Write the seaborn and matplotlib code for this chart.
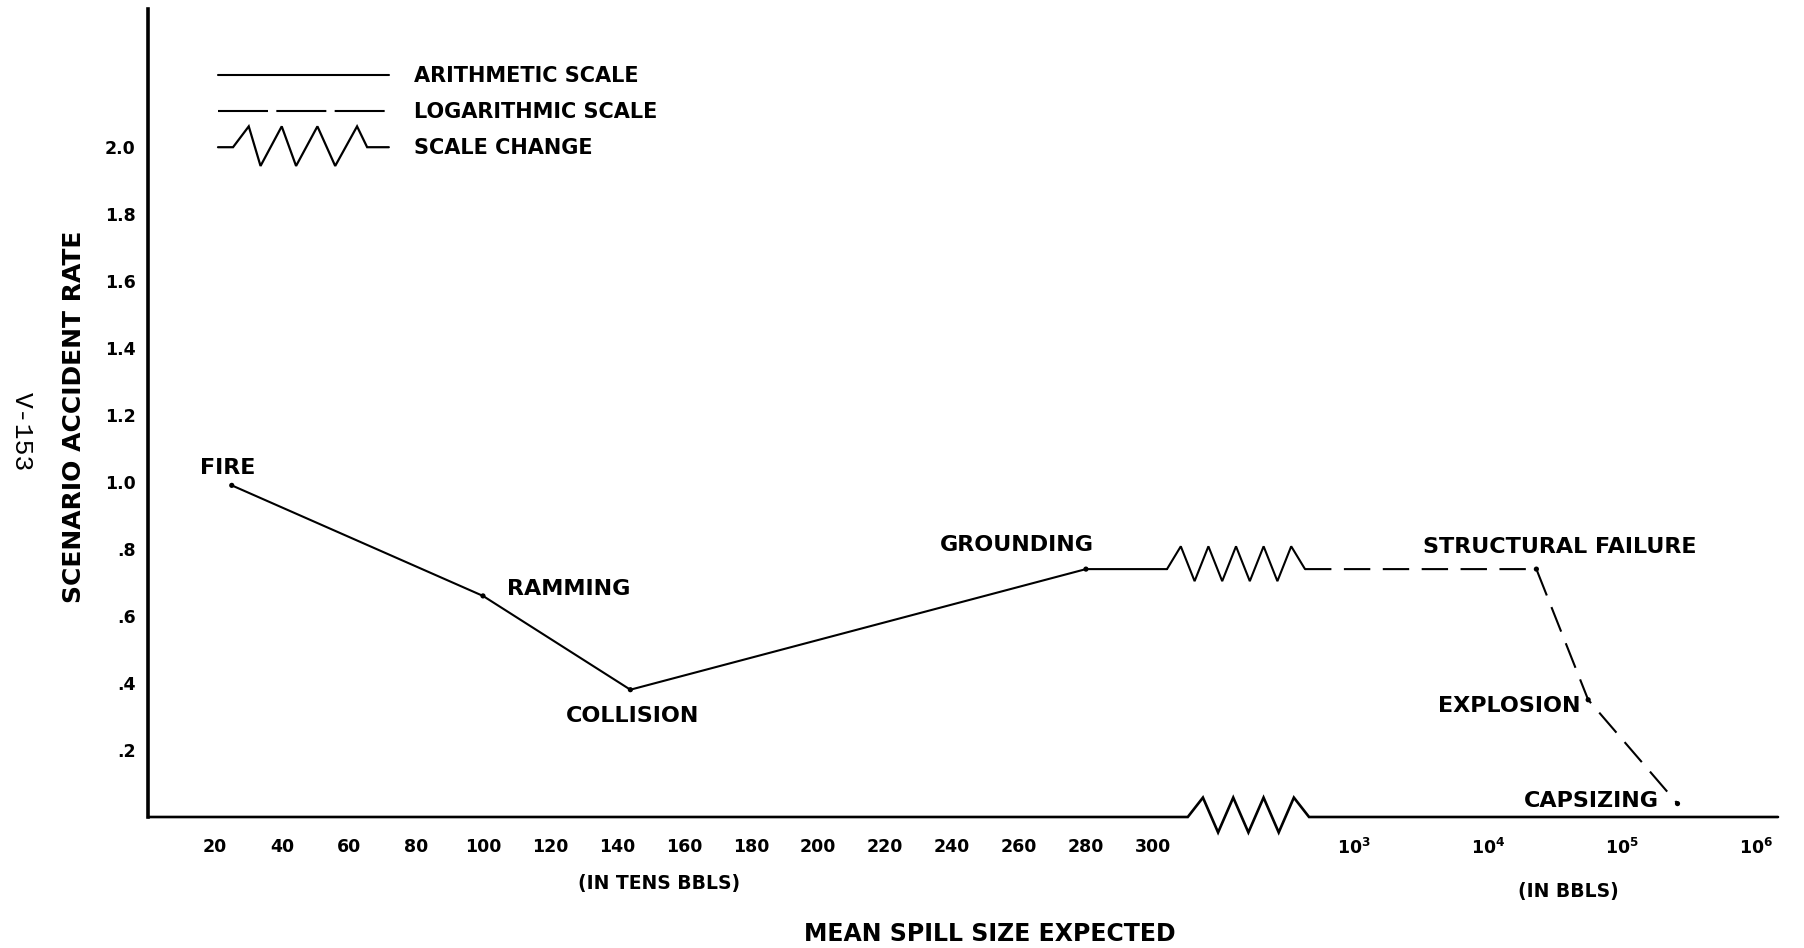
import numpy as np
import pandas as pd
import matplotlib
matplotlib.use("Agg")
import matplotlib.pyplot as plt
from matplotlib.lines import Line2D
from matplotlib.legend_handler import HandlerBase
import seaborn as sns

# ---- data -------------------------------------------------------------
scenarios = ["FIRE", "RAMMING", "COLLISION", "GROUNDING",
             "STRUCTURAL FAILURE", "EXPLOSION", "CAPSIZING"]
# first four in tens of barrels (arithmetic part), rest in barrels (log part)
spill = [25, 100, 144, 280, 2.3e4, 5.6e4, 2.6e5]
rate = [0.99, 0.66, 0.38, 0.74, 0.74, 0.35, 0.04]

arith_ticks = list(range(20, 301, 20))
log_ticks = [1e3, 1e4, 1e5, 1e6]
log_tick_labels = [r"$\mathbf{10^3}$", r"$\mathbf{10^4}$",
                   r"$\mathbf{10^5}$", r"$\mathbf{10^6}$"]
y_ticks = [0.2, 0.4, 0.6, 0.8, 1.0, 1.2, 1.4, 1.6, 1.8, 2.0]
y_tick_labels = [".2", ".4", ".6", ".8", "1.0", "1.2", "1.4", "1.6", "1.8", "2.0"]

# ---- hybrid axis: arithmetic 0..300, scale break, then log 10^3..10^6 ----
ARITH_END, LOG_START, BREAK_W, DECADE_W = 300.0, 1000.0, 60.0, 40.0
U_MAX = 486.6


def fwd(x):
    x = np.asarray(x, dtype=float)
    brk = ARITH_END + (x - ARITH_END) * BREAK_W / (LOG_START - ARITH_END)
    lg = ARITH_END + BREAK_W + DECADE_W * np.log10(np.maximum(x, 1e-9) / LOG_START)
    return np.where(x <= ARITH_END, x, np.where(x < LOG_START, brk, lg))


def inv(u):
    u = np.asarray(u, dtype=float)
    brk = ARITH_END + (u - ARITH_END) * (LOG_START - ARITH_END) / BREAK_W
    lg = LOG_START * 10 ** ((u - ARITH_END - BREAK_W) / DECADE_W)
    return np.where(u <= ARITH_END, u, np.where(u < ARITH_END + BREAK_W, brk, lg))


def zigzag(u0, u1, n_peaks, up, down):
    """Vertices of a scale-change zigzag between scale positions u0 and u1."""
    us = np.linspace(u0, u1, 2 * n_peaks + 1)
    ys = [0.0]
    for i in range(1, 2 * n_peaks):
        ys.append(up if i % 2 == 1 else -down)
    ys.append(0.0)
    return inv(us), np.array(ys)


sns.set_theme(style="white")
plt.rcParams["font.family"] = ["DejaVu Sans"]
plt.rcParams["font.weight"] = "bold"
plt.rcParams["lines.scale_dashes"] = False
for key in ("text.color", "axes.labelcolor", "xtick.color", "ytick.color"):
    plt.rcParams[key] = "black"

W, H = 1804, 948
fig = plt.figure(figsize=(W / 100, H / 100), dpi=100)
ax = fig.add_axes([148 / W, 1 - 817 / H, 1630 / W, 808 / H])
ax.set_xscale("function", functions=(fwd, inv))
ax.set_xlim(0, float(inv(U_MAX)))
ax.set_ylim(0, 2.412)

LW = 1.5
DASH = (0, (19, 9))

# solid arithmetic segment, running flat past 300 to the scale-change mark
zig_line = (304.2, 345.4)
arith = pd.DataFrame({"x": spill[:4] + [float(inv(zig_line[0]))],
                      "y": rate[:4] + [rate[3]]})
sns.lineplot(data=arith, x="x", y="y", ax=ax, color="black", lw=LW,
             sort=False, estimator=None)

# zigzag on the curve
zx, zy = zigzag(zig_line[0], zig_line[1], 5, 0.068, 0.036)
ax.plot(zx, rate[3] + zy, color="black", lw=LW, solid_joinstyle="miter")

# dashed logarithmic segment
logseg = pd.DataFrame({"x": [float(inv(zig_line[1]))] + spill[4:],
                       "y": [rate[4]] + rate[4:]})
sns.lineplot(data=logseg, x="x", y="y", ax=ax, color="black", lw=LW,
             sort=False, estimator=None, linestyle=DASH)

pts = pd.DataFrame({"x": spill, "y": rate})
sns.scatterplot(data=pts, x="x", y="y", ax=ax, color="black", s=14,
                edgecolor="none", zorder=5)

# x axis line with its own scale-change zigzag
zig_axis = (310.4, 346.6)
ax_zx, ax_zy = zigzag(zig_axis[0], zig_axis[1], 4, 0.058, 0.046)
axis_x = np.concatenate([[0.0], ax_zx, [float(inv(U_MAX))]])
axis_y = np.concatenate([[0.0], ax_zy, [0.0]])
ax.plot(axis_x, axis_y, color="black", lw=1.9, clip_on=False,
        solid_joinstyle="miter", zorder=6)

# spines / ticks
for s in ("top", "right", "bottom"):
    ax.spines[s].set_visible(False)
ax.spines["left"].set_color("black")
ax.spines["left"].set_linewidth(2.6)

ax.set_xticks(arith_ticks + log_ticks)
ax.set_xticklabels([str(t) for t in arith_ticks] + log_tick_labels)
ax.set_yticks(y_ticks)
ax.set_yticklabels(y_tick_labels)
ax.tick_params(axis="x", direction="out", length=6, width=1.5, color="black",
               pad=9, labelsize=12.5, labelcolor="black")
ax.tick_params(axis="y", direction="out", length=5, width=1.3, color="black",
               pad=4, labelsize=12.5, labelcolor="black")
for lab in ax.get_xticklabels() + ax.get_yticklabels():
    lab.set_fontweight("bold")
ax.set_xlabel("")
ax.set_ylabel("")

# point labels (offsets in pixels from each point)
label_style = {
    "FIRE": ((-32, 17), "left"),
    "RAMMING": ((24, 7), "left"),
    "COLLISION": ((-64, -26), "left"),
    "GROUNDING": ((8, 24), "right"),
    "STRUCTURAL FAILURE": ((-113, 22), "left"),
    "EXPLOSION": ((-8, -6), "right"),
    "CAPSIZING": ((-19, 3), "right"),
}
for name, x, y in zip(scenarios, spill, rate):
    off, ha = label_style[name]
    ax.annotate(name, (x, y), xytext=off, textcoords="offset pixels",
                ha=ha, va="center", fontsize=16, fontweight="bold",
                color="black")

# unit notes and axis titles
ax.annotate("(IN TENS BBLS)", (144, 0), xytext=(29, -66),
            textcoords="offset pixels", ha="center", va="center",
            fontsize=13.5, fontweight="bold", annotation_clip=False)
ax.annotate("(IN BBLS)", (1e5, 0), xytext=(-54, -75),
            textcoords="offset pixels", ha="center", va="center",
            fontsize=13.5, fontweight="bold", annotation_clip=False)
fig.text(990 / W, 1 - 934 / H, "MEAN SPILL SIZE EXPECTED", ha="center",
         va="center", fontsize=17, fontweight="bold")
fig.text(74 / W, 1 - 417 / H, "SCENARIO ACCIDENT RATE", ha="center",
         va="center", rotation=90, fontsize=18, fontweight="bold")
fig.text(22 / W, 1 - 432 / H, "V-153", ha="center", va="center",
         rotation=-90, fontsize=19, family="Liberation Mono",
         fontweight="normal")


# legend with a custom zigzag key
class ZigzagHandler(HandlerBase):
    def create_artists(self, legend, orig_handle, xdescent, ydescent,
                       width, height, fontsize, trans):
        fr = np.array([0, .088, .18, .249, .373, .457, .582, .686, .814,
                       .873, 1.0])
        yo = np.array([0, 0, 1, -0.9, 1, -0.9, 1, -0.9, 1, 0, 0])
        y0 = height / 2 - ydescent
        xs = -xdescent + fr * width
        ys = y0 + yo * 15
        ln = Line2D(xs, ys, color="black", lw=1.6, solid_joinstyle="miter")
        ln.set_transform(trans)
        return [ln]


class ZigzagKey:
    pass


handles = [Line2D([], [], color="black", lw=1.5),
           Line2D([], [], color="black", lw=1.5, linestyle=(0, (36, 6))),
           ZigzagKey()]
labels = ["ARITHMETIC SCALE", "LOGARITHMIC SCALE", "SCALE CHANGE"]
leg = fig.legend(handles, labels, handler_map={ZigzagKey: ZigzagHandler()},
                 loc="upper left", bbox_to_anchor=(218 / W, 1 - 66 / H),
                 frameon=False, borderpad=0, borderaxespad=0,
                 handlelength=8.2, handletextpad=1.2, labelspacing=0.78,
                 prop={"size": 15, "weight": "bold"})
for t in leg.get_texts():
    t.set_color("black")

fig.savefig("out.png", dpi=100, facecolor="white")
